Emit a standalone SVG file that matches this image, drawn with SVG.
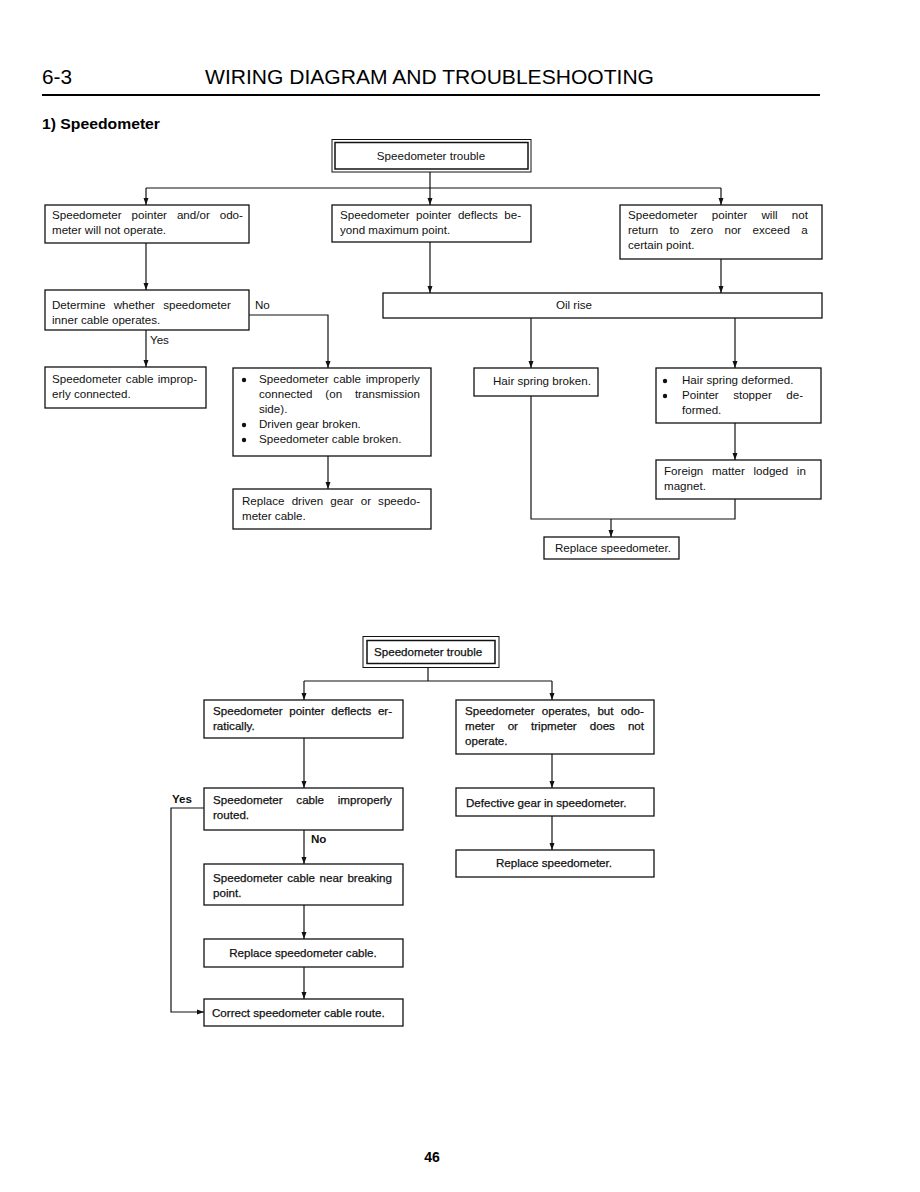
<svg xmlns="http://www.w3.org/2000/svg" width="920" height="1192" viewBox="0 0 920 1192">
<style>
.t{font-family:"Liberation Sans",Arial,Helvetica,sans-serif;font-size:11.6px;fill:#111}
.w{stroke:#111;stroke-width:0.25}
.b{fill:#fff;stroke:#111;stroke-width:1.3}
.c{fill:none;stroke:#111;stroke-width:1.2}
.h{font-family:"Liberation Sans",Arial,Helvetica,sans-serif;fill:#000}
</style>
<defs>
<marker id="ar" markerUnits="userSpaceOnUse" markerWidth="8" markerHeight="6" refX="7" refY="3" orient="auto"><path d="M0,0.5 L7,3 L0,5.5 z" fill="#111"/></marker>
</defs>
<rect width="920" height="1192" fill="#fff"/>

<g id="header">
<text class="h" x="42" y="84" font-size="21" textLength="30" lengthAdjust="spacingAndGlyphs">6-3</text>
<text class="h" x="205" y="84" font-size="21" textLength="449" lengthAdjust="spacingAndGlyphs">WIRING DIAGRAM AND TROUBLESHOOTING</text>
<line x1="42" y1="95" x2="820" y2="95" stroke="#000" stroke-width="2.2"/>
<text class="h" x="42" y="129" font-size="14" font-weight="bold" textLength="118" lengthAdjust="spacingAndGlyphs">1)  Speedometer</text>
</g>

<g id="connectors">
<line class="c" x1="430" y1="172" x2="430" y2="188"/>
<line class="c" x1="146" y1="188" x2="721" y2="188"/>
<line class="c" x1="146" y1="188" x2="146" y2="205" marker-end="url(#ar)"/>
<line class="c" x1="430" y1="188" x2="430" y2="205" marker-end="url(#ar)"/>
<line class="c" x1="721" y1="188" x2="721" y2="205" marker-end="url(#ar)"/>
<line class="c" x1="146" y1="243" x2="146" y2="290" marker-end="url(#ar)"/>
<line class="c" x1="430" y1="242" x2="430" y2="293" marker-end="url(#ar)"/>
<line class="c" x1="721" y1="259" x2="721" y2="293" marker-end="url(#ar)"/>
<polyline class="c" points="249,315 328,315 328,368" marker-end="url(#ar)"/>
<line class="c" x1="146" y1="330" x2="146" y2="367" marker-end="url(#ar)"/>
<line class="c" x1="328" y1="456" x2="328" y2="489" marker-end="url(#ar)"/>
<line class="c" x1="531" y1="318" x2="531" y2="368" marker-end="url(#ar)"/>
<line class="c" x1="735" y1="318" x2="735" y2="368" marker-end="url(#ar)"/>
<line class="c" x1="735" y1="423" x2="735" y2="460" marker-end="url(#ar)"/>
<polyline class="c" points="531,396 531,519 735,519 735,499"/>
<line class="c" x1="611" y1="519" x2="611" y2="537" marker-end="url(#ar)"/>
<line class="c" x1="428" y1="668" x2="428" y2="681"/>
<line class="c" x1="304" y1="681" x2="552" y2="681"/>
<line class="c" x1="304" y1="681" x2="304" y2="700" marker-end="url(#ar)"/>
<line class="c" x1="552" y1="681" x2="552" y2="700" marker-end="url(#ar)"/>
<line class="c" x1="304" y1="738" x2="304" y2="788" marker-end="url(#ar)"/>
<line class="c" x1="304" y1="830" x2="304" y2="864" marker-end="url(#ar)"/>
<line class="c" x1="304" y1="905" x2="304" y2="939" marker-end="url(#ar)"/>
<line class="c" x1="304" y1="967" x2="304" y2="999" marker-end="url(#ar)"/>
<polyline class="c" points="204,808 171,808 171,1012 204,1012" marker-end="url(#ar)"/>
<line class="c" x1="552" y1="754" x2="552" y2="788" marker-end="url(#ar)"/>
<line class="c" x1="552" y1="816" x2="552" y2="850" marker-end="url(#ar)"/>
</g>

<g id="labels">
<text class="t" x="255" y="309">No</text>
<text class="t" x="150" y="344" font-size="10.5">Yes</text>
<text class="t" x="172" y="803" font-weight="bold" font-size="10">Yes</text>
<text class="t" x="311" y="843" font-weight="bold" font-size="10.5">No</text>
</g>

<g id="n-trouble1">
<rect x="332" y="139.5" width="199" height="32.5" fill="#fff" stroke="#111" stroke-width="1"/>
<rect x="335" y="142.5" width="193" height="26.5" fill="none" stroke="#111" stroke-width="1.5"/>
<text class="t" x="431" y="159.5" text-anchor="middle">Speedometer trouble</text>
</g>
<g id="n-a">
<rect class="b" x="45" y="205" width="204" height="38"/>
<text class="t" x="52" y="219" word-spacing="6.7">Speedometer pointer and/or odo-</text>
<text class="t" x="52" y="234">meter will not operate.</text>
</g>
<g id="n-b">
<rect class="b" x="332" y="205" width="199" height="37"/>
<text class="t" x="340" y="219" word-spacing="3.2">Speedometer pointer deflects be-</text>
<text class="t" x="340" y="234">yond maximum point.</text>
</g>
<g id="n-c">
<rect class="b" x="620" y="205" width="202" height="54"/>
<text class="t" x="628" y="219" word-spacing="11">Speedometer pointer will not</text>
<text class="t" x="628" y="234" word-spacing="8.1">return to zero nor exceed a</text>
<text class="t" x="628" y="249">certain point.</text>
</g>
<g id="n-d">
<rect class="b" x="45" y="290" width="204" height="40"/>
<text class="t" x="52" y="309" word-spacing="5">Determine whether speedometer</text>
<text class="t" x="52" y="324">inner cable operates.</text>
</g>
<g id="n-oil">
<rect class="b" x="383" y="293" width="439" height="25"/>
<text class="t" x="574" y="309" text-anchor="middle">Oil rise</text>
</g>
<g id="n-f">
<rect class="b" x="45" y="367" width="161" height="41"/>
<text class="t" x="52" y="383" word-spacing="1">Speedometer cable improp-</text>
<text class="t" x="52" y="398">erly connected.</text>
</g>
<g id="n-e">
<rect class="b" x="233" y="368" width="198" height="88"/>
<circle cx="244" cy="380" r="2.2" fill="#111"/>
<text class="t" x="259" y="383" word-spacing="1.5">Speedometer cable improperly</text>
<text class="t" x="259" y="398" word-spacing="9.6">connected (on transmission</text>
<text class="t" x="259" y="413">side).</text>
<circle cx="244" cy="425" r="2.2" fill="#111"/>
<text class="t" x="259" y="428">Driven gear broken.</text>
<circle cx="244" cy="440" r="2.2" fill="#111"/>
<text class="t" x="259" y="443">Speedometer cable broken.</text>
</g>
<g id="n-g">
<rect class="b" x="233" y="489" width="198" height="40"/>
<text class="t" x="242" y="505" word-spacing="3.9">Replace driven gear or speedo-</text>
<text class="t" x="242" y="520">meter cable.</text>
</g>
<g id="n-hair">
<rect class="b" x="474" y="368" width="124" height="28"/>
<text class="t" x="493" y="385">Hair spring broken.</text>
</g>
<g id="n-h">
<rect class="b" x="656" y="368" width="165" height="55"/>
<circle cx="665" cy="381" r="2.2" fill="#111"/>
<text class="t" x="682" y="384">Hair spring deformed.</text>
<circle cx="665" cy="396" r="2.2" fill="#111"/>
<text class="t" x="682" y="399" word-spacing="11.2">Pointer stopper de-</text>
<text class="t" x="682" y="414">formed.</text>
</g>
<g id="n-i">
<rect class="b" x="656" y="460" width="165" height="39"/>
<text class="t" x="664" y="475" word-spacing="5.4">Foreign matter lodged in</text>
<text class="t" x="664" y="490">magnet.</text>
</g>
<g id="n-replace1">
<rect class="b" x="544" y="537" width="135" height="22"/>
<text class="t" x="555" y="552">Replace speedometer.</text>
</g>

<g id="n-trouble2">
<rect x="363" y="636.5" width="136" height="31" fill="#fff" stroke="#111" stroke-width="1"/>
<rect x="367" y="640.5" width="128" height="23" fill="none" stroke="#111" stroke-width="1.5"/>
<text class="t w" x="374" y="656">Speedometer trouble</text>
</g>
<g id="n-j">
<rect class="b" x="204" y="700" width="199" height="38"/>
<text class="t w" x="213" y="715" word-spacing="3.4">Speedometer pointer deflects er-</text>
<text class="t w" x="213" y="730">ratically.</text>
</g>
<g id="n-k">
<rect class="b" x="456" y="700" width="198" height="54"/>
<text class="t w" x="465" y="715" word-spacing="4">Speedometer operates, but odo-</text>
<text class="t w" x="465" y="730" word-spacing="9.8">meter or tripmeter does not</text>
<text class="t w" x="465" y="745">operate.</text>
</g>
<g id="n-l">
<rect class="b" x="204" y="788" width="199" height="42"/>
<text class="t w" x="213" y="804" word-spacing="10.5">Speedometer cable improperly</text>
<text class="t w" x="213" y="819">routed.</text>
</g>
<g id="n-m">
<rect class="b" x="204" y="864" width="199" height="41"/>
<text class="t w" x="213" y="882" word-spacing="1.4">Speedometer cable near breaking</text>
<text class="t w" x="213" y="897">point.</text>
</g>
<g id="n-n">
<rect class="b" x="204" y="939" width="199" height="28"/>
<text class="t w" x="303" y="957" text-anchor="middle">Replace speedometer cable.</text>
</g>
<g id="n-o">
<rect class="b" x="204" y="999" width="199" height="27"/>
<text class="t w" x="212" y="1017">Correct speedometer cable route.</text>
</g>
<g id="n-p">
<rect class="b" x="456" y="788" width="198" height="28"/>
<text class="t w" x="466" y="807">Defective gear in speedometer.</text>
</g>
<g id="n-q">
<rect class="b" x="456" y="850" width="198" height="27"/>
<text class="t w" x="554" y="867" text-anchor="middle">Replace speedometer.</text>
</g>

<g id="footer">
<text class="h" x="432" y="1162" font-size="14" font-weight="bold" text-anchor="middle">46</text>
</g>
</svg>
